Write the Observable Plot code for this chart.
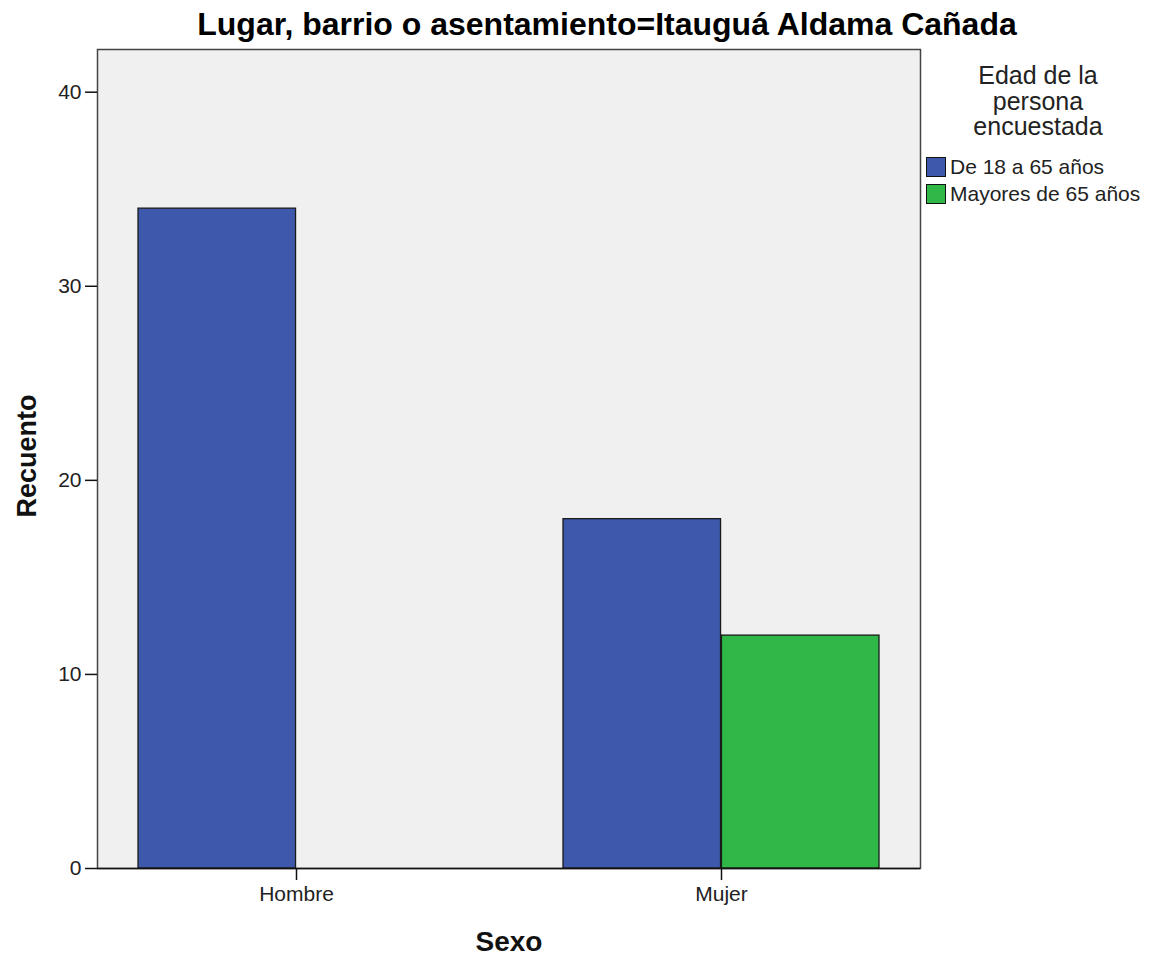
<!DOCTYPE html>
<html>
<head>
<meta charset="utf-8">
<script src="https://cdn.jsdelivr.net/npm/d3@7"></script>
<script src="https://cdn.jsdelivr.net/npm/@observablehq/plot@0.6"></script>
<style>
  body { margin: 0; background: #fff; font-family: "Liberation Sans", Arial, sans-serif; }
  #wrap { position: relative; width: 1168px; height: 958px; overflow: hidden; }
  #title { position: absolute; left: 0; width: 1214px; top: 6px; text-align: center; font-weight: bold; font-size: 32px; line-height: 36px; color: #000; }
  #chart { position: absolute; left: 0; top: 47px; }
  #legend { position: absolute; left: 926px; top: 63px; width: 242px; color: #222; }
  #legend .lt { width: 224px; text-align: center; font-size: 25px; line-height: 25.5px; }
  #legend .item { display: flex; align-items: center; font-size: 21px; height: 27px; }
  #legend .sw { width: 18px; height: 18px; border: 1px solid #111; margin-right: 4px; box-sizing: content-box; }
</style>
</head>
<body>
<div id="wrap">
  <div id="title"></div>
  <div id="chart"></div>
  <div id="legend"></div>
</div>
<script>
const titulo = "Lugar, barrio o asentamiento=Itauguá Aldama Cañada";
const sexos = ["Hombre", "Mujer"];
const edades = ["De 18 a 65 años", "Mayores de 65 años"];
const recuentoDe18a65 = [34, 18];
const recuentoMayores65 = [0, 12];
const colores = ["#3e58ac", "#2fb847"];
const yTicks = [0, 10, 20, 30, 40];
const yLabel = "Recuento";
const xLabel = "Sexo";
const legendTitle = ["Edad de la", "persona", "encuestada"];

const rows = [];
sexos.forEach((s, i) => {
  rows.push({sexo: s, edad: edades[0], n: recuentoDe18a65[i]});
  rows.push({sexo: s, edad: edades[1], n: recuentoMayores65[i]});
});

const W = 1168, H = 911;
const mL = 97, mR = 248, mT = 2, mB = 90;
const padIn = 0.256, padOut = 0.094;
const step = (W - mL - mR) / (sexos.length - padIn + 2 * padOut);
const bw = step * (1 - padIn);

const chart = Plot.plot({
  width: W, height: H,
  marginLeft: mL, marginRight: mR, marginTop: mT, marginBottom: mB,
  style: {fontFamily: "'Liberation Sans', Arial, sans-serif", fontSize: "21px", color: "#222", background: "transparent"},
  x: {domain: sexos, paddingInner: padIn, paddingOuter: padOut, label: null},
  y: {domain: [0, 42.2], label: null},
  color: {domain: edades, range: colores},
  marks: [
    Plot.frame({fill: "#f0f0f0", stroke: "#444", strokeWidth: 1.5}),
    Plot.barY(rows.filter(d => d.edad === edades[0] && d.n > 0), {x: "sexo", y: "n", fill: "edad", stroke: "#1a1a1a", strokeWidth: 1.3, insetRight: bw / 2}),
    Plot.barY(rows.filter(d => d.edad === edades[1] && d.n > 0), {x: "sexo", y: "n", fill: "edad", stroke: "#1a1a1a", strokeWidth: 1.3, insetLeft: bw / 2}),
    Plot.ruleY([0], {stroke: "#111", strokeWidth: 1.5}),
    Plot.axisY({ticks: yTicks, tickSize: 12, tickPadding: 4, label: null, stroke: "#111", strokeWidth: 1.5}),
    Plot.axisX({tickSize: 12, tickPadding: 6, label: null, stroke: "#111", strokeWidth: 1.5}),
    Plot.text([yLabel], {frameAnchor: "left", textAnchor: "middle", dx: -70, dy: -3, rotate: -90, fontSize: 27, fontWeight: "bold", fill: "#111", text: d => d}),
    Plot.text([xLabel], {frameAnchor: "bottom", dy: 82, fontSize: 28, fontWeight: "bold", fill: "#111", text: d => d})
  ]
});
document.getElementById("chart").appendChild(chart);
document.getElementById("title").textContent = titulo;

const leg = document.getElementById("legend");
legendTitle.forEach(t => { const d = document.createElement("div"); d.className = "lt"; d.textContent = t; leg.appendChild(d); });
const sp = document.createElement("div"); sp.style.height = "14px"; leg.appendChild(sp);
edades.forEach((e, i) => {
  const it = document.createElement("div"); it.className = "item";
  const sw = document.createElement("div"); sw.className = "sw"; sw.style.background = colores[i];
  const tx = document.createElement("span"); tx.textContent = e;
  it.appendChild(sw); it.appendChild(tx); leg.appendChild(it);
});
</script>
</body>
</html>
